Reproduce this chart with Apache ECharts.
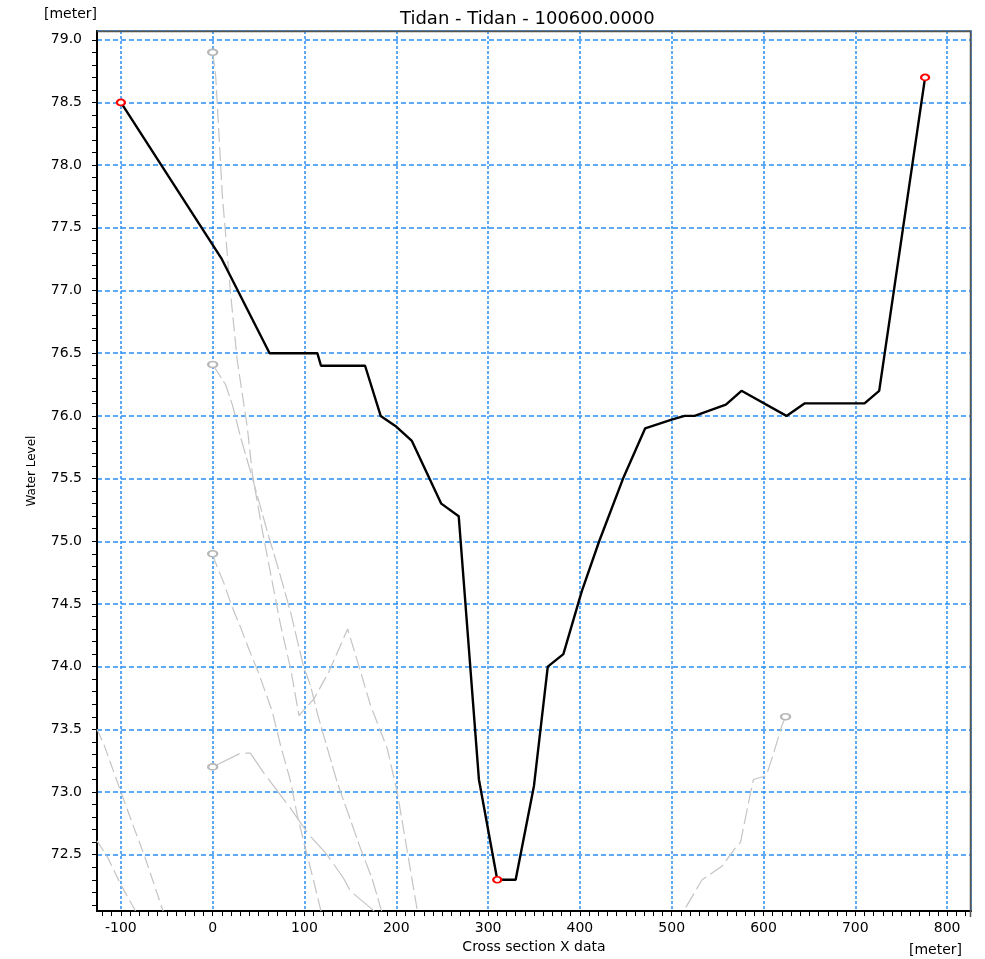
<!DOCTYPE html>
<html>
<head>
<meta charset="utf-8">
<title>Tidan - Tidan - 100600.0000</title>
<script src="https://cdn.jsdelivr.net/npm/echarts@6/dist/echarts.min.js"></script>
<style>
  html, body { margin: 0; padding: 0; background: #fff; }
  #chart { width: 985px; height: 959px; }
</style>
</head>
<body>
<div id="chart"></div>
<script>
// main cross section: chainage [meter] and bed level [meter]
const mainX = [-100, 10, 62, 114, 118, 166, 183, 199, 217, 249, 268, 290, 310, 330, 350, 365, 382, 402, 421, 447, 471, 500, 514, 525, 559, 576, 625, 645, 710, 726, 776];
const mainY = [78.5, 77.25, 76.5, 76.5, 76.4, 76.4, 76.0, 75.92, 75.8, 75.3, 75.2, 73.1, 72.3, 72.3, 73.05, 74.0, 74.1, 74.6, 75.0, 75.5, 75.9, 75.97, 76.0, 76.0, 76.09, 76.2, 76.0, 76.1, 76.1, 76.2, 78.7];

// other sections shown in light grey
const aX = [0, 3.3, 10.5, 19.6, 26.8, 37.7, 43.2, 54.2, 65, 74, 85, 94, 110, 126, 147, 157, 172, 190, 201, 223];
const aY = [78.9, 78.71, 77.76, 76.97, 76.44, 75.91, 75.54, 75.08, 74.67, 74.33, 73.98, 73.61, 73.74, 73.95, 74.3, 74.06, 73.69, 73.35, 73.0, 72.05];
const bX = [0, 14, 21.4, 30.4, 43, 61, 72, 85, 99, 106.5, 115, 135.5, 148, 161, 173.6, 184];
const bY = [76.41, 76.25, 76.09, 75.83, 75.51, 75.04, 74.77, 74.43, 74.0, 73.85, 73.6, 73.08, 72.82, 72.55, 72.31, 72.05];
const cX = [0, 3, 12, 21, 30, 41, 50, 65, 74, 85, 92, 101, 110, 118];
const cY = [74.9, 74.83, 74.67, 74.48, 74.32, 74.11, 73.95, 73.64, 73.37, 73.08, 72.82, 72.55, 72.29, 72.05];
const dX = [0, 30.4, 41, 55.8, 63, 84.8, 104.7, 124.6, 142.7, 150, 176];
const dY = [73.2, 73.31, 73.31, 73.15, 73.08, 72.87, 72.66, 72.5, 72.31, 72.21, 72.05];
const e1X = [-126, -118, -100, -85.5, -74.7, -54];
const e1Y = [73.5, 73.37, 73.0, 72.71, 72.5, 72.05];
const e2X = [-126, -114.5, -100, -84];
const e2Y = [72.61, 72.48, 72.26, 72.05];
const fX = [624, 620, 611, 603, 589, 586, 575, 569, 555, 533, 513];
const fY = [73.6, 73.53, 73.31, 73.13, 73.1, 73.0, 72.6, 72.55, 72.41, 72.3, 72.05];

// tick labels
const xLabels = [-100, 0, 100, 200, 300, 400, 500, 600, 700, 800];
const yLabels = [72.5, 73.0, 73.5, 74.0, 74.5, 75.0, 75.5, 76.0, 76.5, 77.0, 77.5, 78.0, 78.5, 79.0];
// small ticks every 10 m and every 0.1 m
const xTicks = [];
for (let v = -120; v <= 820; v += 10) xTicks.push(v);
const yTicks = [];
for (let v = 721; v <= 790; v++) yTicks.push(v / 10);

const font = 'DejaVu Sans';
const gridBlue = '#2b8ff5';
const grey = '#c4c4c4';

function pairs(xs, ys) {
  return xs.map((x, i) => [x, ys[i]]);
}

function greyLine(xs, ys, dash, marked) {
  return {
    type: 'line',
    data: pairs(xs, ys),
    symbol: marked ? 'emptyCircle' : 'none',
    symbolSize: (v, p) => (p.dataIndex === 0 ? [9, 6] : 0),
    itemStyle: { color: '#b8b8b8', borderWidth: 1 },
    lineStyle: { color: grey, width: 1.2, type: dash },
    silent: true,
    z: 2
  };
}

const lowIdx = mainY.indexOf(Math.min(...mainY));
const marks = [0, lowIdx, mainY.length - 1];

const chart = echarts.init(document.getElementById('chart'));
chart.setOption({
  animation: false,
  backgroundColor: '#fff',
  title: {
    text: 'Tidan - Tidan - 100600.0000',
    left: 400,
    top: 10,
    padding: 0,
    textStyle: { fontFamily: font, fontSize: 18, fontWeight: 'normal', color: '#000' }
  },
  graphic: [
    { type: 'text', left: 44, top: 7, style: { text: '[meter]', font: '14px "DejaVu Sans"', fill: '#000' } },
    { type: 'text', right: 23, top: 943, style: { text: '[meter]', font: '14px "DejaVu Sans"', fill: '#000' } },
    // top and right frame of the plot, drawn over the edge grid lines
    {
      type: 'polyline', z: 100, silent: true,
      shape: { points: [[97, 31.5], [970.5, 31.5], [970.5, 917]] },
      style: { stroke: '#555', lineWidth: 1.5, fill: null }
    }
  ],
  grid: {
    left: 97, right: 14, top: 31, bottom: 42,
    show: true, borderColor: '#555', borderWidth: 1.5, backgroundColor: '#fff'
  },
  xAxis: [
    {
      type: 'value', min: -126, max: 826, splitNumber: 10, position: 'bottom',
      name: 'Cross section X data', nameLocation: 'middle', nameGap: 26,
      nameTextStyle: { fontFamily: font, fontSize: 14, color: '#000' },
      axisLine: { show: true, onZero: false, lineStyle: { color: '#000', width: 2 } },
      axisTick: { show: false },
      axisLabel: { customValues: xLabels, color: '#000', fontFamily: font, fontSize: 14, margin: 10 },
      splitLine: { show: true, lineStyle: { color: gridBlue, width: 1.5, type: [3, 2] } }
    },
    {
      type: 'value', min: -126, max: 826, position: 'bottom',
      axisLine: { show: false, onZero: false },
      axisLabel: { show: false },
      splitLine: { show: false },
      axisTick: { show: true, customValues: xTicks, length: 5, lineStyle: { color: '#000', width: 1 } }
    }
  ],
  yAxis: [
    {
      type: 'value', min: 72.05, max: 79.07, splitNumber: 14, position: 'left',
      name: 'Water Level', nameLocation: 'middle', nameGap: 59, nameRotate: 90,
      nameTextStyle: { fontFamily: font, fontSize: 12, color: '#000' },
      axisLine: { show: true, onZero: false, lineStyle: { color: '#000', width: 2 } },
      axisTick: { show: false },
      axisLabel: {
        customValues: yLabels, color: '#000', fontFamily: font, fontSize: 14, margin: 15,
        formatter: v => v.toFixed(1)
      },
      splitLine: { show: true, lineStyle: { color: gridBlue, width: 1.5, type: [5, 3] } }
    },
    {
      type: 'value', min: 72.05, max: 79.07, position: 'left',
      axisLine: { show: false, onZero: false },
      axisLabel: { show: false },
      splitLine: { show: false },
      axisTick: { show: true, customValues: yTicks, length: 5, lineStyle: { color: '#000', width: 1 } }
    }
  ],
  series: [
    greyLine(e1X, e1Y, [12, 5], false),
    greyLine(e2X, e2Y, [12, 5], false),
    greyLine(aX, aY, [14, 5], true),
    greyLine(bX, bY, [16, 4], true),
    greyLine(cX, cY, [14, 5], true),
    greyLine(dX, dY, [30, 6], true),
    greyLine(fX, fY, [16, 5], true),
    {
      type: 'line',
      data: pairs(mainX, mainY),
      symbol: 'emptyCircle',
      symbolSize: (v, p) => (marks.includes(p.dataIndex) ? [8, 6] : 0),
      itemStyle: { color: '#ff0000', borderWidth: 1 },
      lineStyle: { color: '#000', width: 2.4 },
      z: 5
    }
  ]
});
</script>
</body>
</html>
